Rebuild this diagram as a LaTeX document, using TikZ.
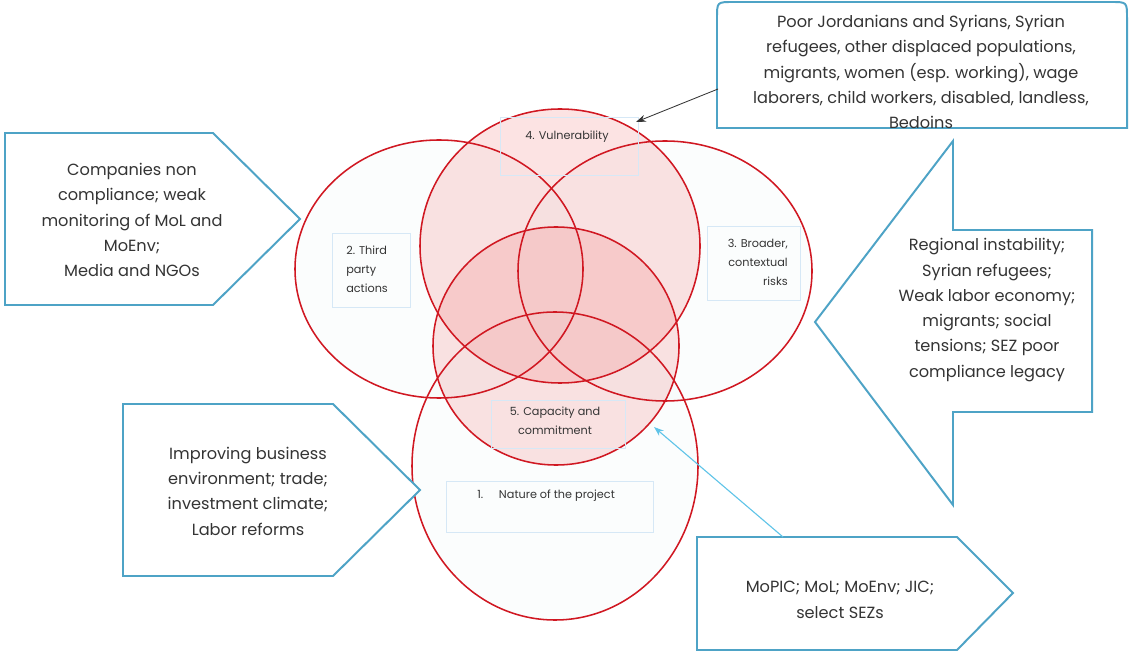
\documentclass[tikz,border=0pt]{standalone}
\usepackage{fontspec}
\setmainfont{Poppins}
\usetikzlibrary{arrows.meta}
\definecolor{ringred}{RGB}{208,24,34}
\definecolor{callblue}{RGB}{78,163,198}
\definecolor{tagblue}{RGB}{214,232,246}
\definecolor{pinkfill}{RGB}{240,90,90}
\definecolor{palefill}{RGB}{228,242,242}
\definecolor{inkgray}{RGB}{52,52,52}
\definecolor{skyarrow}{RGB}{96,196,232}
\tikzset{
  ring/.style={draw=ringred, line width=1.1pt},
  callout/.style={draw=callblue, line width=1.4pt, fill=white},
  tagbox/.style={draw=tagblue, line width=0.6pt},
  calltext/.style={align=center, text=inkgray, inner sep=0pt, font=\fontsize{11.5}{18}\selectfont},
  tagtext/.style={text=inkgray, inner sep=0pt, font=\fontsize{8}{13.5}\selectfont},
}
\begin{document}
\begin{tikzpicture}[x=0.025cm, y=-0.025cm]
                \useasboundingbox (0,0) rectangle (1130,655);
                {\footnotesize

                % Filling circles 2, 3 and 1
                \fill [palefill, opacity=0.15] (439,269) ellipse [x radius=144, y radius=129];%
                \fill [palefill, opacity=0.15] (665,271) ellipse [x radius=147, y radius=130];%
                \fill [palefill, opacity=0.15] (555,466) ellipse [x radius=143, y radius=154];%

                % Filling circles 4 and 5
                \fill [pinkfill, opacity=0.17] (560,246) ellipse [x radius=140, y radius=137];%
                \fill [pinkfill, opacity=0.17] (556,346) ellipse [x radius=123, y radius=119];%

                % Drawing circle outlines
                \draw [ring] (439,269) ellipse [x radius=144, y radius=129];%
                \draw [ring] (665,271) ellipse [x radius=147, y radius=130];%
                \draw [ring] (555,466) ellipse [x radius=143, y radius=154];%
                \draw [ring] (560,246) ellipse [x radius=140, y radius=137];%
                \draw [ring] (556,346) ellipse [x radius=123, y radius=119];%

                % Marking label 4 by box
                \draw [tagbox] (500,117) rectangle (638,175);%
                \node [tagtext] (vuln) at (567,137) {4. Vulnerability};%

                % Marking label 2 by box
                \draw [tagbox] (332,233) rectangle (410,307);%
                \node [tagtext, align=left, anchor=west] (third) at (346,269) {2. Third\\party\\actions};%

                % Marking label 3 by box
                \draw [tagbox] (707,226) rectangle (800,300);%
                \node [tagtext, align=right, anchor=east] (broad) at (788,262) {3. Broader,\\contextual\\risks};%

                % Marking label 5 by box
                \draw [tagbox] (491,400) rectangle (625,448);%
                \node [tagtext, align=center] (capac) at (555,421) {5. Capacity and\\commitment};%

                % Marking label 1 by box
                \draw [tagbox] (446,481) rectangle (653,532);%
                \node [tagtext, anchor=west] (nature) at (477,496) {1.\hspace{1.4em}Nature of the project};%

                % Drawing callout of third parties
                \draw [callout] (5,133) -- (213,133) -- (300,219) -- (213,305) -- (5,305) -- cycle;%
                \node [calltext] (partytxt) at (132,220) {Companies non\\compliance; weak\\monitoring of MoL and\\MoEnv;\\Media and NGOs};%

                % Drawing callout of vulnerable groups
                \draw [callout] (717,128) -- (717,18) .. controls (717,2) .. (733,2) -- (1111,2) .. controls (1127,2) .. (1127,18) -- (1127,128) -- cycle;%
                \node [calltext] (vulntxt) at (921,72) {Poor Jordanians and Syrians, Syrian\\refugees, other displaced populations,\\migrants, women (esp. working), wage\\laborers, child workers, disabled, landless,\\Bedoins};%
                \coordinate (vulnfoot) at (718,89);%
                \coordinate (vulnhit) at (636,122);%

                % Drawing callout of broader risks
                \draw [callout] (1092,230) -- (953,230) -- (953,141) -- (815,322) -- (953,505) -- (953,412) -- (1092,412) -- cycle;%
                \node [calltext] (risktxt) at (987,310) {Regional instability;\\Syrian refugees;\\Weak labor economy;\\migrants; social\\tensions; SEZ poor\\compliance legacy};%

                % Drawing callout of project nature
                \draw [callout] (123,404) -- (333,404) -- (420,490) -- (333,576) -- (123,576) -- cycle;%
                \node [calltext] (naturetxt) at (248,491) {Improving business\\environment; trade;\\investment climate;\\Labor reforms};%

                % Drawing callout of capacity
                \draw [callout] (697,537) -- (957,537) -- (1013,593) -- (957,650) -- (697,650) -- cycle;%
                \node [calltext] (capactxt) at (840,600) {MoPIC; MoL; MoEnv; JIC;\\select SEZs};%
                \coordinate (capacfoot) at (783,537);%
                \coordinate (capachit) at (654,427);%

                % Drawing pointers
                \draw [-{Stealth[length=7pt, width=5pt]}, draw=inkgray, line width=0.6pt] (vulnfoot) -- (vulnhit);%
                \draw [-{Stealth[length=7pt, width=5pt]}, draw=skyarrow, line width=0.8pt] (capacfoot) -- (capachit);%
                }
\end{tikzpicture}
\end{document}
